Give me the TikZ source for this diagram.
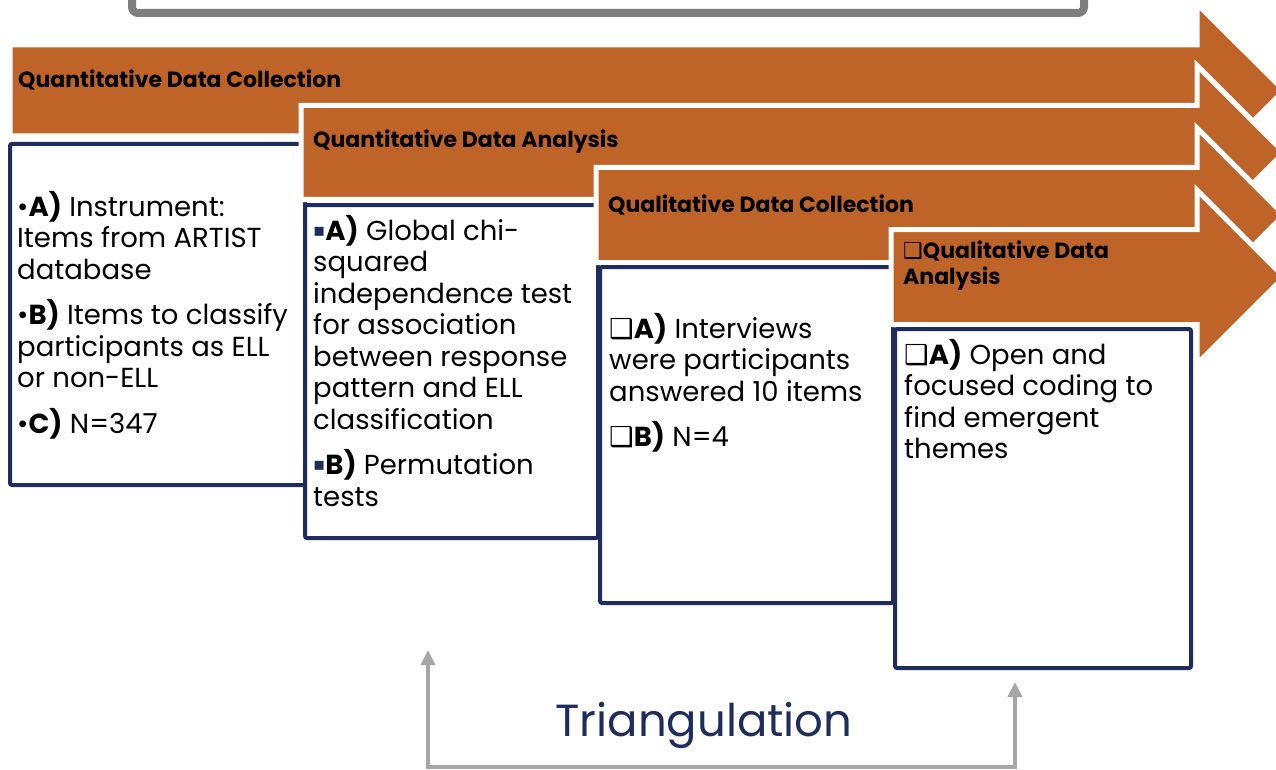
\documentclass[tikz,border=0pt]{standalone}
\usepackage{fontspec}
\setmainfont{Poppins}
\newfontfamily\symfont{DejaVu Sans}
\usetikzlibrary{arrows.meta}
\definecolor{org}{HTML}{BF6429}
\definecolor{navy}{HTML}{1F2D5E}
\definecolor{gbox}{HTML}{7F7F7F}
\definecolor{gline}{HTML}{A6A6A6}
\tikzset{
  bigarrow/.style={fill=org, draw=white, line width=5pt, line join=miter},
  panel/.style={fill=white, draw=navy, line width=4pt, rounded corners=2pt},
  txt/.style={font=\fontsize{27.5}{31.5}\selectfont, align=left, inner sep=0pt, anchor=north west},
  hdr/.style={font=\bfseries\fontsize{22}{26}\selectfont, align=left, inner sep=0pt, anchor=west},
  conn/.style={draw=gline, line width=4pt, {Triangle[length=15pt,width=14pt]}-{Triangle[length=15pt,width=14pt]}}
}
\newcommand{\sqb}{\raisebox{4pt}{\color{navy}\symfont\fontsize{18}{18}\selectfont ▪}}
\newcommand{\shb}{{\symfont ❑}}
\begin{document}
\begin{tikzpicture}[x=1pt,y=-1pt]
\useasboundingbox (0,0) rectangle (1276,770);
\clip (0,0) rectangle (1276,770);
% title box (cut off)
\draw[gbox, line width=8pt, rounded corners=6pt, fill=white] (132,-40) rectangle (1084,13);
% arrow 1
\path[bigarrow] (10,45) -- (1197,45) -- (1197,4) -- (1284,90.5) -- (1197,177) -- (1197,136) -- (10,136) -- cycle;
\node[hdr] (h1) at (18,80) {Quantitative Data Collection};
% box 1
\path[panel] (10,144) rectangle (305,485);
\node[txt] (t1) at (17,191) {\textbullet\textbf{A)} Instrument:\\Items from ARTIST\\database\\[14pt]\textbullet\textbf{B)} Items to classify\\participants as ELL\\or non-ELL\\[14pt]\textbullet\textbf{C)} N=347};
% arrow 2
\path[bigarrow] (301,105.5) -- (1197,105.5) -- (1197,65.5) -- (1284,152.5) -- (1197,239.5) -- (1197,199.5) -- (301,199.5) -- cycle;
\node[hdr] (h2) at (313,142) {Quantitative Data Analysis};
% box 2
\path[panel] (305,205) rectangle (598,538);
\node[txt] (t2) at (313,215) {\sqb\textbf{A)} Global chi-\\squared\\independence test\\for association\\between response\\pattern and ELL\\classification\\[14pt]\sqb\textbf{B)} Permutation\\tests};
% arrow 3
\path[bigarrow] (596,167.5) -- (1197,167.5) -- (1197,128) -- (1284,215) -- (1197,302) -- (1197,262.5) -- (596,262.5) -- cycle;
\node[hdr] (h3) at (608,205) {Qualitative Data Collection};
% box 3
\path[panel] (600,267) rectangle (893,603);
\node[txt] (t3) at (609,313) {\shb\textbf{A)} Interviews\\were participants\\answered 10 items\\[14pt]\shb\textbf{B)} N=4};
% arrow 4
\path[bigarrow] (891,229.5) -- (1197,229.5) -- (1197,190) -- (1284,277) -- (1197,364) -- (1197,324.5) -- (891,324.5) -- cycle;
\node[hdr, anchor=north west] (h4) at (903,241) {\shb Qualitative Data\\Analysis};
% box 4
\path[panel] (895,329) rectangle (1191,668);
\node[txt] (t4) at (904,339) {\shb\textbf{A)} Open and\\focused coding to\\find emergent\\themes};
% triangulation
\node[font=\fontsize{45}{50}\selectfont, text=navy, inner sep=0pt] (tri) at (704,725) {Triangulation};
\coordinate (ta) at (428,650);
\coordinate (ca) at (428,767);
\coordinate (cb) at (1015,767);
\coordinate (tb) at (1015,682);
\draw[conn] (ta) -- (ca) -- (cb) -- (tb);
\end{tikzpicture}
\end{document}
